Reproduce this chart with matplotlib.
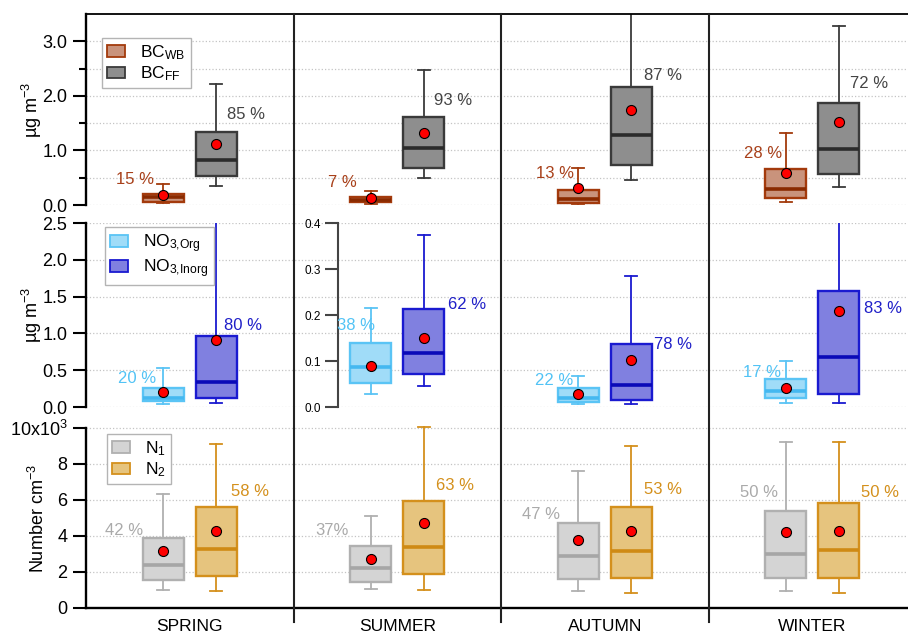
import matplotlib.pyplot as plt
import matplotlib.transforms as mtransforms
from matplotlib.lines import Line2D
from matplotlib.patches import Patch

plt.rcParams['font.family'] = ['Liberation Sans', 'DejaVu Sans']
plt.rcParams['mathtext.default'] = 'regular'

seasons = ['SPRING', 'SUMMER', 'AUTUMN', 'WINTER']

# per season: whisker low, q1, median, q3, whisker high, mean
bc_wb = [[0.03, 0.06, 0.15, 0.20, 0.39, 0.18],
         [0.01, 0.05, 0.09, 0.14, 0.26, 0.12],
         [0.01, 0.04, 0.11, 0.27, 0.68, 0.31],
         [0.055, 0.13, 0.29, 0.66, 1.32, 0.58]]
bc_ff = [[0.35, 0.53, 0.82, 1.34, 2.21, 1.12],
         [0.49, 0.67, 1.04, 1.62, 2.47, 1.32],
         [0.45, 0.73, 1.29, 2.16, 3.70, 1.75],
         [0.33, 0.57, 1.02, 1.86, 3.28, 1.53]]
# summer NO3 values belong to the 0-0.4 inset scale
no3_org = [[0.04, 0.077, 0.12, 0.26, 0.53, 0.21],
           [0.028, 0.052, 0.088, 0.139, 0.216, 0.09],
           [0.037, 0.073, 0.122, 0.254, 0.42, 0.177],
           [0.06, 0.118, 0.213, 0.38, 0.625, 0.258]]
no3_inorg = [[0.05, 0.12, 0.34, 0.96, 2.60, 0.91],
             [0.045, 0.071, 0.117, 0.214, 0.373, 0.15],
             [0.046, 0.095, 0.295, 0.86, 1.776, 0.64],
             [0.06, 0.182, 0.68, 1.572, 2.60, 1.30]]
# number concentration in 10^3 cm-3
n1 = [[1.00, 1.54, 2.39, 3.91, 6.33, 3.15],
      [1.06, 1.43, 2.24, 3.43, 5.09, 2.70],
      [0.94, 1.61, 2.91, 4.74, 7.59, 3.78],
      [0.94, 1.65, 3.00, 5.39, 9.20, 4.22]]
n2 = [[0.96, 1.78, 3.26, 5.63, 9.09, 4.29],
      [0.98, 1.89, 3.39, 5.94, 10.07, 4.74],
      [0.85, 1.67, 3.15, 5.63, 8.98, 4.28],
      [0.83, 1.68, 3.24, 5.85, 9.24, 4.29]]

bc_wb_pct = ['15 %', '7 %', '13 %', '28 %']
bc_ff_pct = ['85 %', '93 %', '87 %', '72 %']
no3_org_pct = ['20 %', '38 %', '22 %', '17 %']
no3_inorg_pct = ['80 %', '62 %', '78 %', '83 %']
n1_pct = ['42 %', '37%', '47 %', '50 %']
n2_pct = ['58 %', '63 %', '53 %', '50 %']

# where the percentage texts sit (data coords)
bc_wb_lab = [(0.236, 0.476), (1.234, 0.41), (2.26, 0.58), (3.263, 0.94)]
bc_ff_lab = [(0.769, 1.65), (1.769, 1.906), (2.781, 2.38), (3.773, 2.22)]
org_lab = [(0.246, 0.394), (1.301, 0.177), (2.255, 0.363), (3.258, 0.462)]
inorg_lab = [(0.757, 1.11), (1.836, 0.223), (2.829, 0.848), (3.841, 1.337)]
n1_lab = [(0.183, 4.29), (1.186, 4.33), (2.193, 5.22), (3.243, 6.4)]
n2_lab = [(0.79, 6.5), (1.778, 6.78), (2.781, 6.59), (3.827, 6.4)]

# colours: face, edge, median, text
c_wb = ('#c9937c', '#a33a0c', '#8a2a00', '#a8401a')
c_ff = ('#8e8e8e', '#3a3a3a', '#2b2b2b', '#444444')
c_org = ('#a0dcf8', '#5ac4f5', '#45b8f0', '#52c3f5')
c_inorg = ('#8080e0', '#1a1ad0', '#0a0ab8', '#1f1fc8')
c_n1 = ('#d4d4d4', '#b0b0b0', '#a6a6a6', '#aaaaaa')
c_n2 = ('#e6c47e', '#d4901c', '#cf8a14', '#d4901c')

W, H = 908, 636
fig = plt.figure(figsize=(W / 100, H / 100), dpi=100)


def px_axes(x0, y0, x1, y1):
    return fig.add_axes([x0 / W, 1 - y1 / H, (x1 - x0) / W, (y1 - y0) / H])


ax_top = px_axes(86, 14, 916, 205)
ax_mid = px_axes(86, 223, 916, 407)
ax_bot = px_axes(86, 426.2, 916, 608)
ax_ins = px_axes(338, 223, 501, 407)

OFF_L, OFF_R, BW = -0.127, 0.128, 0.198


def draw_boxes(ax, stats, pos, col):
    face, edge, med, _ = col
    bs = [dict(whislo=s[0], q1=s[1], med=s[2], q3=s[3], whishi=s[4], mean=s[5], fliers=[])
          for s in stats]
    ax.bxp(bs, positions=pos, widths=BW, capwidths=0.058, patch_artist=True,
           showmeans=True, showfliers=False, manage_ticks=False,
           boxprops=dict(facecolor=face, edgecolor=edge, linewidth=1.7),
           medianprops=dict(color=med, linewidth=2.6),
           whiskerprops=dict(color=edge, linewidth=1.3),
           capprops=dict(color=edge, linewidth=1.3),
           meanprops=dict(marker='o', markerfacecolor='#ff0000', markeredgecolor='black',
                          markersize=7.2, markeredgewidth=0.8))


def put_labels(ax, texts, where, col, idx):
    for i in idx:
        ax.text(where[i][0], where[i][1], texts[i], color=col[3], fontsize=12,
                ha='center', va='center')


def style_row(ax, ymax):
    ax.set_xlim(0, 4)
    ax.set_ylim(0, ymax)
    ax.set_facecolor('none')
    for s in ['right', 'bottom', 'top']:
        ax.spines[s].set_visible(False)
    ax.spines['left'].set_linewidth(1.7)
    ax.tick_params(axis='y', which='major', length=9.5, width=1.5, labelsize=13, pad=4)
    ax.tick_params(axis='y', which='minor', length=5, width=1.5)
    ax.tick_params(axis='x', which='both', bottom=False, labelbottom=False)
    ax.set_axisbelow(True)
    ax.yaxis.grid(True, which='both', color='#c4c4c4', linestyle=':', linewidth=0.9)


all_idx = [0, 1, 2, 3]
centers = [i + 0.5 for i in all_idx]

# top row: BC
style_row(ax_top, 3.5)
ax_top.spines['top'].set_visible(True)
ax_top.spines['top'].set_linewidth(1.3)
ax_top.set_yticks([0, 1, 2, 3], ['0.0', '1.0', '2.0', '3.0'])
ax_top.set_yticks([0.5, 1.5, 2.5], minor=True)
draw_boxes(ax_top, bc_wb, [c + OFF_L for c in centers], c_wb)
draw_boxes(ax_top, bc_ff, [c + OFF_R for c in centers], c_ff)
put_labels(ax_top, bc_wb_pct, bc_wb_lab, c_wb, all_idx)
put_labels(ax_top, bc_ff_pct, bc_ff_lab, c_ff, all_idx)
ax_top.set_ylabel('µg m$^{-3}$', fontsize=13)
ax_top.yaxis.set_label_coords(-0.051, 0.5)

# middle row: NO3
style_row(ax_mid, 2.5)
ax_mid.set_yticks([0, 0.5, 1, 1.5, 2, 2.5], ['0.0', '0.5', '1.0', '1.5', '2.0', '2.5'])
no_summer = [0, 2, 3]
draw_boxes(ax_mid, [no3_org[i] for i in no_summer], [centers[i] + OFF_L for i in no_summer], c_org)
draw_boxes(ax_mid, [no3_inorg[i] for i in no_summer], [centers[i] + OFF_R for i in no_summer], c_inorg)
put_labels(ax_mid, no3_org_pct, org_lab, c_org, no_summer)
put_labels(ax_mid, no3_inorg_pct, inorg_lab, c_inorg, no_summer)
ax_mid.set_ylabel('µg m$^{-3}$', fontsize=13)
ax_mid.yaxis.set_label_coords(-0.051, 0.5)

# summer inset with its own scale
ax_ins.set_xlim((338 - 86) / 207.5, 2.0)
ax_ins.set_ylim(0, 0.4)
ax_ins.set_facecolor('none')
for s in ['right', 'bottom', 'top']:
    ax_ins.spines[s].set_visible(False)
ax_ins.spines['left'].set_linewidth(1.5)
ax_ins.spines['left'].set_color('#444444')
ax_ins.set_yticks([0, 0.1, 0.2, 0.3, 0.4], ['0.0', '0.1', '0.2', '0.3', '0.4'])
ax_ins.tick_params(axis='y', length=9.5, width=1.5, color='#444444', labelsize=8.5, pad=3)
ax_ins.tick_params(axis='x', bottom=False, labelbottom=False)
draw_boxes(ax_ins, [no3_org[1]], [centers[1] + OFF_L], c_org)
draw_boxes(ax_ins, [no3_inorg[1]], [centers[1] + OFF_R], c_inorg)
put_labels(ax_ins, no3_org_pct, org_lab, c_org, [1])
put_labels(ax_ins, no3_inorg_pct, inorg_lab, c_inorg, [1])

# bottom row: number concentration
style_row(ax_bot, 10.1)
ax_bot.spines['left'].set_bounds(0, 10)
ax_bot.spines['bottom'].set_visible(True)
ax_bot.spines['bottom'].set_linewidth(1.7)
ax_bot.set_yticks([0, 2, 4, 6, 8, 10], ['0', '2', '4', '6', '8', '10x10$^{3}$'])
draw_boxes(ax_bot, n1, [c + OFF_L for c in centers], c_n1)
draw_boxes(ax_bot, n2, [c + OFF_R for c in centers], c_n2)
put_labels(ax_bot, n1_pct, n1_lab, c_n1, all_idx)
put_labels(ax_bot, n2_pct, n2_lab, c_n2, all_idx)
ax_bot.set_xticks(centers, seasons)
ax_bot.tick_params(axis='x', which='major', bottom=True, labelbottom=True, length=0,
                   labelsize=12.5, pad=8)
ax_bot.set_ylabel('Number cm$^{-3}$', fontsize=13)
ax_bot.yaxis.set_label_coords(-0.046, 0.5 * 10 / 10.1)

# legends


def add_legend(ax, labels, cols, anchor):
    hs = [Patch(facecolor=c[0], edgecolor=c[1], linewidth=1.3, label=l)
          for l, c in zip(labels, cols)]
    leg = ax.legend(handles=hs, loc='upper left', bbox_to_anchor=anchor, fontsize=12.5,
                    frameon=True, fancybox=False, edgecolor='#b4b4b4', framealpha=1,
                    borderpad=0.3, handlelength=1.0, handleheight=0.65,
                    handletextpad=0.9, labelspacing=0.15, borderaxespad=0)
    leg.get_frame().set_linewidth(1.0)


add_legend(ax_top, ['BC$_{WB}$', 'BC$_{FF}$'], [c_wb, c_ff], (0.0193, 0.874))
add_legend(ax_mid, ['NO$_{3{,}Org}$', 'NO$_{3{,}Inorg}$'], [c_org, c_inorg], (0.0229, 0.978))
add_legend(ax_bot, ['N$_{1}$', 'N$_{2}$'], [c_n1, c_n2], (0.0253, 0.957))

# season separators across all rows
tr = mtransforms.blended_transform_factory(ax_bot.transData, fig.transFigure)
for xs in [1, 2, 3]:
    fig.add_artist(Line2D([xs, xs], [1 - 622 / H, 1 - 14 / H], transform=tr,
                          color='#222222', linewidth=1.5))

fig.savefig('out.png', dpi=100)
